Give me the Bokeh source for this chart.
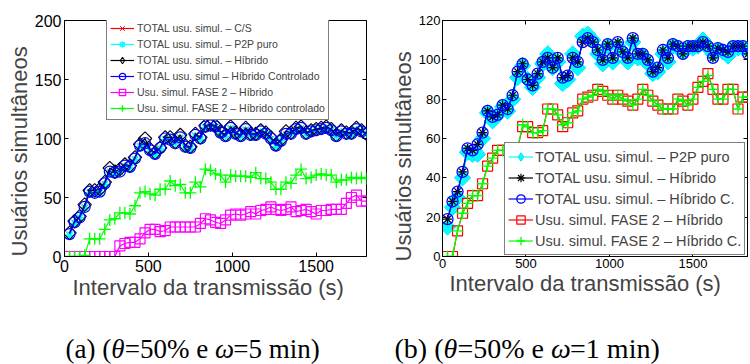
import math
from bokeh.plotting import figure
from bokeh.models import Range1d, LinearAxis, FixedTicker, Title
from bokeh.core.properties import value
from bokeh.layouts import row, column
from bokeh.embed import file_html
from bokeh.resources import INLINE

# ---------------- data ----------------
t_a = list(range(30, 1801, 30))   # 60 sample times (s), panel (a)
t_b = list(range(30, 1831, 30))   # 61 sample times (s), panel (b)

# panel (a)
cs_a = [19, 29, 33, 42, 55, 54, 55, 62, 72, 71, 72, 77, 76, 83, 94, 96, 90, 87, 92, 100,
        99, 96, 101, 93, 92, 103, 100, 110, 111, 110, 105, 102, 109, 104, 102, 108, 103, 103, 106, 104,
        100, 94, 98, 104, 104, 108, 109, 104, 106, 107, 108, 109, 107, 102, 106, 104, 104, 108, 106, 104]
p2p_a = [18, 28, 33, 41, 54, 54, 54, 61, 71, 70, 72, 76, 75, 82, 93, 95, 89, 86, 91, 99,
         100, 96, 100, 92, 91, 102, 99, 109, 110, 110, 104, 102, 108, 103, 102, 107, 103, 102, 105, 104,
         99, 93, 98, 103, 104, 107, 108, 104, 105, 107, 107, 108, 107, 102, 105, 104, 103, 107, 106, 104]
hib_a = [20, 30, 34, 44, 56, 56, 57, 63, 75, 72, 74, 78, 77, 84, 95, 100, 91, 88, 92, 101,
         101, 97, 103, 94, 93, 104, 101, 111, 112, 111, 106, 103, 110, 105, 103, 109, 104, 104, 107, 105,
         101, 95, 99, 106, 105, 109, 110, 105, 107, 108, 109, 110, 108, 103, 107, 105, 105, 109, 107, 104]
hc_a = [19, 29, 33, 42, 55, 54, 55, 62, 72, 71, 72, 77, 76, 83, 94, 96, 90, 87, 92, 100,
        99, 96, 101, 93, 92, 103, 100, 110, 111, 110, 105, 102, 109, 104, 102, 108, 103, 103, 106, 104,
        100, 94, 98, 104, 104, 108, 109, 104, 106, 107, 108, 109, 107, 102, 106, 104, 104, 108, 106, 104]
f2h_a = [0, 0, 0, 0, 0, 0, 0, 0, 0, 0, 9, 11, 12, 12, 15, 20, 23, 23, 21, 22,
         25, 25, 25, 25, 25, 25, 28, 32, 31, 29, 28, 31, 35, 36, 35, 36, 38, 36, 39, 40,
         42, 40, 39, 40, 42, 38, 39, 40, 38, 36, 39, 39, 40, 40, 40, 45, 50, 52, 47, 47]
f2hc_a = [0, 0, 0, 1, 15, 15, 15, 23, 31, 32, 37, 37, 36, 43, 54, 55, 53, 52, 57, 57,
          64, 60, 61, 54, 54, 63, 59, 74, 73, 70, 69, 63, 69, 68, 68, 68, 67, 71, 66, 66,
          63, 57, 57, 63, 62, 69, 74, 66, 67, 69, 70, 69, 69, 63, 65, 65, 67, 66, 67, 66]

# panel (b)
p2p_b = [15, 25, 30, 40, 53, 52, 52, 60, 73, 69, 72, 76, 74, 80, 91, 97, 90, 86, 91, 98,
         103, 96, 99, 88, 90, 103, 96, 112, 113, 110, 103, 98, 107, 99, 107, 104, 99, 109, 101, 102,
         98, 93, 94, 103, 99, 107, 106, 104, 106, 106, 107, 110, 106, 103, 105, 104, 102, 106, 106, 106, 105]
hib_b = [19, 28, 33, 43, 55, 54, 57, 63, 74, 71, 72, 77, 75, 82, 94, 98, 90, 87, 93, 99,
         101, 96, 101, 91, 92, 101, 99, 109, 111, 109, 105, 100, 108, 101, 109, 104, 101, 111, 103, 103,
         100, 94, 96, 105, 101, 108, 107, 103, 107, 107, 107, 109, 107, 101, 106, 105, 104, 107, 107, 107, 103]
hc_b = [19, 28, 33, 43, 55, 54, 57, 63, 74, 71, 72, 77, 75, 82, 94, 98, 90, 87, 93, 99,
        101, 96, 101, 91, 92, 101, 99, 109, 111, 109, 105, 100, 108, 101, 109, 104, 101, 111, 103, 103,
        100, 94, 96, 105, 101, 108, 107, 103, 107, 107, 107, 109, 107, 101, 106, 105, 104, 107, 107, 107, 103]
f2h_b = [0, 0, 13, 22, 27, 31, 31, 37, 46, 50, 54, 54, 54, 54, 55, 66, 66, 63, 63, 64,
         75, 75, 72, 66, 68, 73, 74, 80, 81, 82, 85, 84, 82, 80, 82, 80, 79, 77, 80, 85,
         82, 79, 77, 75, 75, 75, 80, 79, 77, 80, 86, 89, 93, 85, 80, 80, 85, 85, 75, 81, 81]
f2hc_b = [0, 0, 13, 22, 27, 31, 31, 37, 46, 50, 54, 54, 54, 54, 55, 67, 66, 63, 63, 64,
          75, 75, 72, 67, 68, 73, 74, 80, 81, 82, 85, 84, 82, 80, 82, 80, 79, 77, 80, 85,
          82, 79, 77, 75, 75, 75, 80, 79, 77, 80, 86, 89, 92, 85, 80, 80, 85, 85, 75, 81, 81]

xticks = [0, 500, 1000, 1500]
yticks_a = [0, 50, 100, 150, 200]
yticks_b = [0, 20, 40, 60, 80, 100, 120]

xlabel = "Intervalo da transmissão (s)"
ylabel = "Usuários simultâneos"
# caption pieces: (text, italic?)
cap_a = [("(a) (", False), ("θ", True), ("=50% e ", False), ("ω", True), ("=5 min)", False)]
cap_b = [("(b) (", False), ("θ", True), ("=50% e ", False), ("ω", True), ("=1 min)", False)]

FONT = "Liberation Sans"
SERIF = "Liberation Serif"

# approximate Times advance widths (em) used to chain the caption pieces
TW = {"(": .333, ")": .333, "a": .444, "b": .5, " ": .25, "=": .564, "5": .5, "0": .5,
      "1": .5, "%": .833, "e": .444, "m": .778, "i": .278, "n": .5, "θ": .5, "ω": .68}


def make_fig(width, xr, yr, mbl, mbr, mbb, yticks, tick_fs, std):
    p = figure(width=width, height=308, x_range=Range1d(*xr), y_range=Range1d(*yr),
               output_backend="svg", toolbar_location=None,
               min_border_left=mbl, min_border_right=mbr, min_border_top=20,
               min_border_bottom=mbb)
    p.xgrid.visible = False
    p.ygrid.visible = False
    p.outline_line_color = "black"
    p.outline_line_width = 1
    p.border_fill_color = "white"
    p.xaxis.ticker = FixedTicker(ticks=xticks)
    p.yaxis.ticker = FixedTicker(ticks=yticks)
    for ax in (p.xaxis[0], p.yaxis[0]):
        ax.major_tick_in = 4
        ax.major_tick_out = 0
        ax.minor_tick_in = 0
        ax.minor_tick_out = 0
        ax.major_label_text_font = FONT
        ax.major_label_text_font_size = tick_fs
        ax.major_label_text_color = "black"
        ax.axis_line_color = "black"
        ax.major_tick_line_color = "black"
        ax.major_label_standoff = std
    for tk, place in ((xticks, "above"), (yticks, "right")):
        ax = LinearAxis(ticker=FixedTicker(ticks=tk), major_tick_in=4, major_tick_out=0,
                        minor_tick_in=0, minor_tick_out=0, axis_line_color=None,
                        major_label_text_color=None, major_label_text_font_size="1px",
                        major_label_standoff=0)
        p.add_layout(ax, place)
    return p


def add_labels(p, x_off, y_off):
    p.add_layout(Title(text=xlabel, text_font=FONT, text_font_size="22px",
                       text_font_style="normal", align="left", offset=x_off, standoff=-3), "below")
    p.add_layout(Title(text=ylabel, text_font=FONT, text_font_size="22px",
                       text_font_style="normal", align="left", offset=y_off, standoff=0), "left")


def style_legend(lg, loc, fs, h, gw, standoff):
    lg.location = loc
    lg.margin = 0
    lg.padding = 3
    lg.spacing = 0
    lg.label_standoff = standoff
    lg.glyph_width = gw
    lg.glyph_height = h
    lg.label_height = h
    lg.label_text_font = FONT
    lg.label_text_font_size = fs
    lg.border_line_color = "black"
    lg.border_line_width = 1
    lg.background_fill_alpha = 1.0


LW = 1.2
# ---------------- panel (a) ----------------
pa = make_fig(388, (0, 1800), (0, 200), 64, 22, 52, yticks_a, "16px", 3)
L = "TOTAL usu. simul. – C/S"
pa.line(t_a, cs_a, color="#ff0000", line_width=LW, legend_label=L)
pa.scatter(t_a, cs_a, marker="x", size=7, line_color="#ff0000", legend_label=L)
L = "TOTAL usu. simul. – P2P puro"
pa.line(t_a, p2p_a, color="#00ffff", line_width=LW, legend_label=L)
pa.scatter(t_a, p2p_a, marker="asterisk", size=9, line_color="#00ffff", line_width=1.5, legend_label=L)
L = "TOTAL usu. simul. – Híbrido"
pa.line(t_a, hib_a, color="black", line_width=LW, legend_label=L)
pa.scatter(t_a, hib_a, marker="square", angle=math.pi / 4, size=9.5, line_color="black",
           fill_color=None, line_width=1.1)
hid = pa.scatter(t_a, hib_a, marker="diamond", size=15, line_color="black",
                 fill_color=None, line_width=1.1, legend_label=L)
hid.visible = False
L = "TOTAL usu. simul – Híbrido Controlado"
pa.line(t_a, hc_a, color="#0000ff", line_width=LW, legend_label=L)
pa.scatter(t_a, hc_a, marker="circle", size=11, line_color="#0000ff", fill_color=None,
           line_width=1.2, legend_label=L)
L = "Usu. simul. FASE 2 – Híbrido"
pa.line(t_a, f2h_a, color="#ff00ff", line_width=LW, legend_label=L)
pa.scatter(t_a, f2h_a, marker="square", size=10, line_color="#ff00ff", fill_color=None,
           line_width=1.2, legend_label=L)
L = "Usu. simul. FASE 2 – Híbrido controlado"
pa.line(t_a, f2hc_a, color="#00ff00", line_width=LW, legend_label=L)
pa.scatter(t_a, f2hc_a, marker="cross", size=12, line_color="#00ff00", line_width=1.3, legend_label=L)
style_legend(pa.legend[0], (42, 136), "10.5px", 16, 24, 3)
add_labels(pa, 8, 0)

# ---------------- panel (b) ----------------
pb = make_fig(362, (0, 1827), (0, 120), 52, 3, 50, yticks_b, "13px", 2)
L = "TOTAL usu. simul. – P2P puro"
pb.line(t_b, p2p_b, color="#00ffff", line_width=LW, legend_label=L)
pb.scatter(t_b, p2p_b, marker="square", angle=math.pi / 4, size=11.5, line_color="#00e5ff",
           fill_color="#00ffff")
hid = pb.scatter(t_b, p2p_b, marker="diamond", size=19, line_color="#00e5ff",
                 fill_color="#00ffff", legend_label=L)
hid.visible = False
L = "TOTAL usu. simul. – Híbrido"
pb.line(t_b, hib_b, color="black", line_width=LW, legend_label=L)
pb.scatter(t_b, hib_b, marker="asterisk", size=9, line_color="black", line_width=1.2, legend_label=L)
L = "TOTAL usu. simul. – Híbrido C."
pb.line(t_b, hc_b, color="#0000ff", line_width=LW, legend_label=L)
pb.scatter(t_b, hc_b, marker="circle", size=11, line_color="#0000ff", fill_color=None,
           line_width=1.3, legend_label=L)
L = "Usu. simul. FASE 2 – Híbrido"
pb.line(t_b, f2h_b, color="#ff0000", line_width=LW, legend_label=L)
pb.scatter(t_b, f2h_b, marker="square", size=10, line_color="#ff0000", fill_color=None,
           line_width=1.2, legend_label=L)
L = "Usu. simul. FASE 2 – Híbrido C."
pb.line(t_b, f2hc_b, color="#00ff00", line_width=LW, legend_label=L)
pb.scatter(t_b, f2hc_b, marker="cross", size=12, line_color="#00ff00", line_width=1.3, legend_label=L)
style_legend(pb.legend[0], (62, 1), "14.5px", 21, 25, 2)
add_labels(pb, 7, -5)

# ---------------- captions ----------------
pc = figure(width=750, height=56, x_range=Range1d(0, 750), y_range=Range1d(56, 0),
            output_backend="svg", toolbar_location=None, x_axis_type=None, y_axis_type=None,
            min_border=0)
pc.grid.visible = False
pc.outline_line_color = None
for pieces, x0, fs in ((cap_a, 65, 27), (cap_b, 394, 28)):
    x = x0
    for txt, ital in pieces:
        pc.text(x=[x], y=[40], text=[txt], text_font=value(SERIF), text_font_size=f"{fs}px",
                text_font_style="italic" if ital else "normal", text_align="left",
                text_baseline="alphabetic", text_color="black")
        x += sum(TW.get(ch, .5) for ch in txt) * fs

layout = column(row(pa, pb), pc)
open("out.html", "w").write(file_html(layout, INLINE))
